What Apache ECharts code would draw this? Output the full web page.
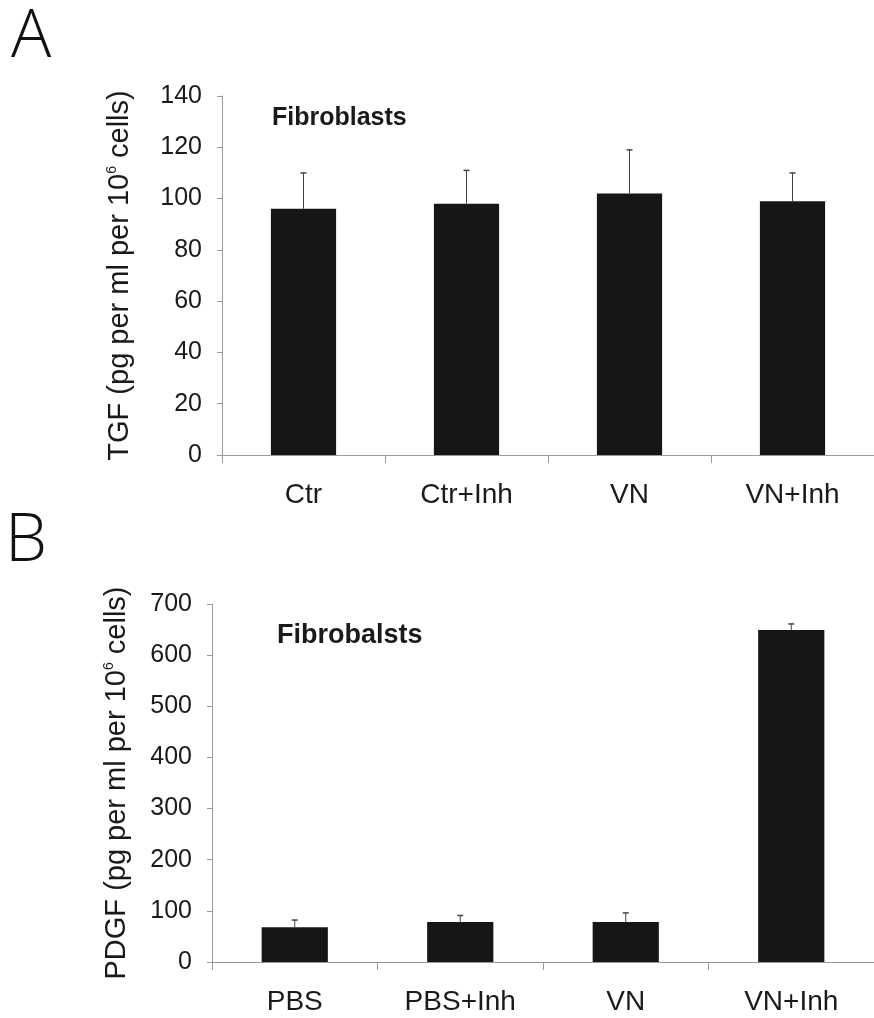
<!DOCTYPE html>
<html>
<head>
<meta charset="utf-8">
<script src="https://cdn.jsdelivr.net/npm/echarts@6/dist/echarts.min.js"></script>
<style>html,body{margin:0;padding:0;background:#fff;}#c{width:874px;height:1018px;}</style>
</head>
<body>
<div id="c"></div>
<script>
const catsA = ['Ctr', 'Ctr+Inh', 'VN', 'VN+Inh'];
const valsA = [96, 98, 102, 99];
const errTopA = [110, 111, 119, 110];
const catsB = ['PBS', 'PBS+Inh', 'VN', 'VN+Inh'];
const valsB = [68, 78, 78, 649];
const errTopB = [82, 91, 96, 661];

const FONT = "'Liberation Sans', Arial, sans-serif";
const barColor = '#151618';
const axisColor = '#9a9a9a';

function errRender(params, api) {
  const base = api.coord([api.value(0), api.value(1)]);
  const top = api.coord([api.value(0), api.value(2)]);
  const cw = 3;
  return {
    type: 'group',
    children: [
      {type: 'line', shape: {x1: base[0], y1: base[1], x2: top[0], y2: top[1]}, style: {stroke: '#444', lineWidth: 1}},
      {type: 'line', shape: {x1: top[0] - cw, y1: top[1], x2: top[0] + cw, y2: top[1]}, style: {stroke: '#444', lineWidth: 1.5}}
    ]
  };
}

function yAxisCfg(gridIndex, max, interval, nameRich, nameGap) {
  return {
    type: 'value', gridIndex, min: 0, max, interval,
    name: nameRich, nameLocation: 'middle', nameRotate: 90, nameGap,
    nameTextStyle: {fontFamily: FONT, fontSize: 29, color: '#1a1a1a',
      rich: {sup: {fontSize: 14, fontFamily: FONT, color: '#1a1a1a', verticalAlign: 'top', padding: [0, 0, 14, 0]}}},
    axisLine: {show: true, lineStyle: {color: axisColor, width: 1}},
    axisTick: {show: true, inside: false, length: 5, lineStyle: {color: axisColor}},
    axisLabel: {fontFamily: FONT, fontSize: 25, color: '#1a1a1a', margin: 20},
    splitLine: {show: false}
  };
}
function xAxisCfg(gridIndex, cats) {
  return {
    type: 'category', gridIndex, data: cats, boundaryGap: true,
    axisLine: {show: true, lineStyle: {color: axisColor, width: 1}},
    axisTick: {show: true, length: 8, lineStyle: {color: axisColor}},
    axisLabel: {fontFamily: FONT, fontSize: 28, color: '#1a1a1a', margin: 26, interval: 0}
  };
}

const chart = echarts.init(document.getElementById('c'));
chart.setOption({
  animation: false,
  backgroundColor: '#fff',
  grid: [
    {left: 222, top: 96, width: 661, height: 359},
    {left: 212, top: 604, width: 662, height: 358}
  ],
  xAxis: [xAxisCfg(0, catsA), xAxisCfg(1, catsB)],
  yAxis: [
    yAxisCfg(0, 140, 20, 'TGF (pg per ml per 10{sup|6} cells)', 88),
    yAxisCfg(1, 700, 100, 'PDGF (pg per ml per 10{sup|6} cells)', 81)
  ],
  series: [
    {type: 'bar', xAxisIndex: 0, yAxisIndex: 0, data: valsA, barWidth: '40%', itemStyle: {color: barColor}},
    {type: 'bar', xAxisIndex: 1, yAxisIndex: 1, data: valsB, barWidth: '40%', itemStyle: {color: barColor}},
    {type: 'custom', xAxisIndex: 0, yAxisIndex: 0, renderItem: errRender, z: 5,
      data: catsA.map((c, i) => [i, valsA[i], errTopA[i]])},
    {type: 'custom', xAxisIndex: 1, yAxisIndex: 1, renderItem: errRender, z: 5,
      data: catsB.map((c, i) => [i, valsB[i], errTopB[i]])}
  ],
  graphic: [
    {type: 'text', x: 11, y: 38, style: {text: 'A', fontFamily: "'Open Sans', sans-serif", fontWeight: 300, fontSize: 67, fill: '#111', align: 'left', verticalAlign: 'middle'}},
    {type: 'text', x: 5, y: 542, style: {text: 'B', fontFamily: "'Open Sans', sans-serif", fontWeight: 300, fontSize: 67, fill: '#111', align: 'left', verticalAlign: 'middle'}},
    {type: 'text', x: 272, y: 118, style: {text: 'Fibroblasts', fontFamily: FONT, fontWeight: 'bold', fontSize: 25, fill: '#1a1a1a', align: 'left', verticalAlign: 'middle'}},
    {type: 'text', x: 277, y: 636, style: {text: 'Fibrobalsts', fontFamily: FONT, fontWeight: 'bold', fontSize: 27, fill: '#1a1a1a', align: 'left', verticalAlign: 'middle'}}
  ]
});
</script>
</body>
</html>
